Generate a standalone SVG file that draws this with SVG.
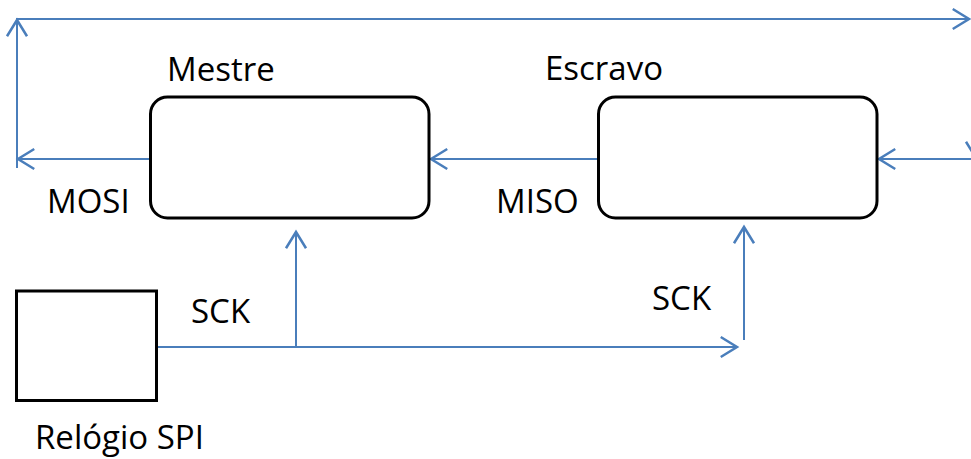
<svg xmlns="http://www.w3.org/2000/svg" width="971" height="459" viewBox="0 0 971 459">
  <defs>
    <marker id="arrow" markerUnits="userSpaceOnUse" markerWidth="30" markerHeight="30" viewBox="-16 -12 20 24" refX="0" refY="0" orient="auto" overflow="visible">
      <path d="M-13,-8 L0,0 L-13,8" fill="none" stroke="#4A7EBB" stroke-width="2"/>
    </marker>
  </defs>
  <style>
    .wire { fill: none; stroke: #4A7EBB; stroke-width: 2; }
    .arr { marker-end: url(#arrow); }
    .box { fill: #FFFFFF; stroke: #000000; stroke-width: 3; }
    .lbl { font-family: "Open Sans", "Liberation Sans", sans-serif; font-size: 33px; fill: #000000; }
  </style>
  <rect width="971" height="459" fill="#FFFFFF"/>

  <!-- signal lines -->
  <g id="connectors">
    <!-- MOSI: master out, looping over the top to the right edge -->
    <line class="wire arr" x1="150" y1="159" x2="18" y2="159"/>
    <line class="wire arr" x1="17" y1="168" x2="17" y2="20"/>
    <line class="wire arr" x1="16" y1="19" x2="969" y2="19"/>
    <!-- line coming in from the right into the slave -->
    <line class="wire arr" x1="971" y1="159" x2="879" y2="159"/>
    <line class="wire arr" x1="976" y1="110" x2="976" y2="158"/>
    <!-- MISO: slave to master -->
    <line class="wire arr" x1="598" y1="159" x2="431" y2="159"/>
    <!-- SCK distribution from the clock -->
    <line class="wire arr" x1="157" y1="347" x2="737" y2="347"/>
    <line class="wire arr" x1="296" y1="347" x2="296" y2="232"/>
    <line class="wire arr" x1="744" y1="340" x2="744" y2="227"/>
  </g>

  <g id="mestre">
    <rect class="box" x="150.5" y="97" width="278.5" height="121" rx="17" ry="17"/>
    <text class="lbl" x="167" y="81">Mestre</text>
  </g>

  <g id="escravo">
    <rect class="box" x="598.5" y="97" width="278.5" height="121" rx="17" ry="17"/>
    <text class="lbl" x="545" y="80">Escravo</text>
  </g>

  <g id="relogio">
    <rect class="box" x="16.5" y="291" width="140" height="109.5"/>
    <text class="lbl" x="35" y="449">Relógio SPI</text>
  </g>

  <g id="labels">
    <text class="lbl" x="47" y="213">MOSI</text>
    <text class="lbl" x="496" y="213">MISO</text>
    <text class="lbl" x="191" y="323">SCK</text>
    <text class="lbl" x="652" y="310">SCK</text>
  </g>
</svg>
